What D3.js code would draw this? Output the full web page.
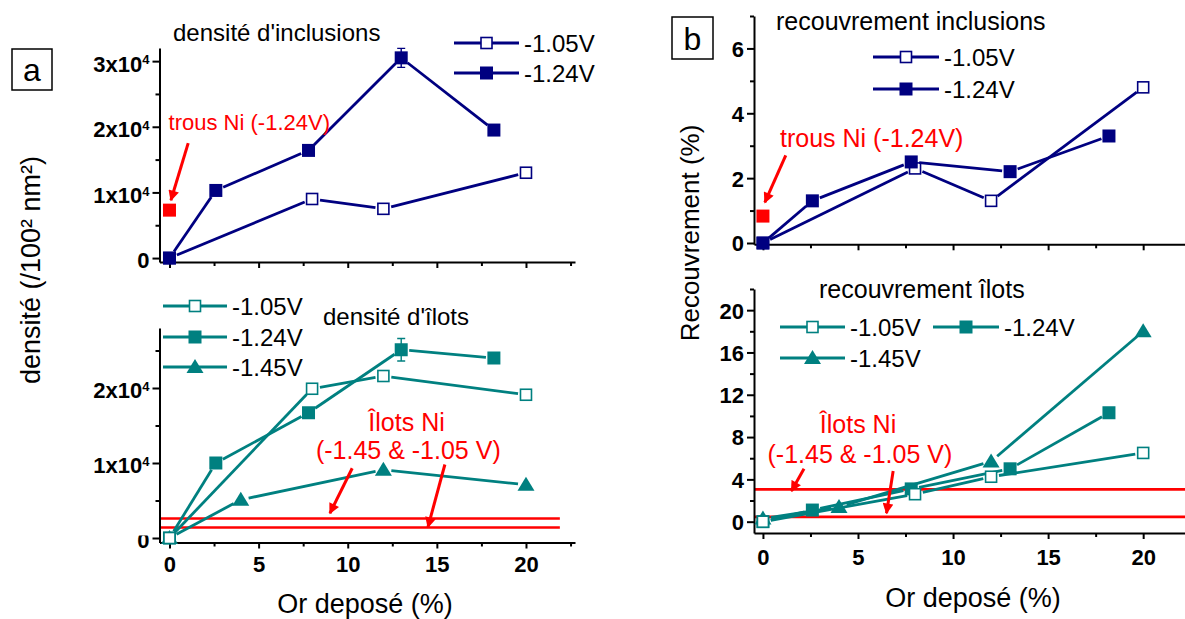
<!DOCTYPE html>
<html>
<head>
<meta charset="utf-8">
<script src="https://cdn.jsdelivr.net/npm/d3@7"></script>
<style>
  body { margin: 0; background: #fff; }
  text { font-family: "Liberation Sans", Arial, sans-serif; }
  .axis text { font-weight: bold; font-size: 22px; }
</style>
</head>
<body>
<div id="chart"></div>
<script>
// Or deposé (%) for each series
const orIncl105 = [0, 8, 12, 20];
const orIncl124 = [0, 2.6, 7.8, 13, 18.2];
const orIlots145 = [0, 4, 12, 20];

// panel a, top: densité d'inclusions
const densIncl105 = [0, 9000, 7500, 13000];
const densIncl124 = [0, 10300, 16400, 30500, 19500];
const densIncl124Err = [0, 0, 0, 1450, 0];
const densTrousNi = [7300];

// panel a, bottom: densité d'îlots
const densIlots105 = [0, 19900, 21600, 19100];
const densIlots124 = [0, 10000, 16700, 25100, 24000];
const densIlots124Err = [0, 0, 0, 1500, 0];
const densIlots145 = [0, 5100, 9100, 7100];
const densIlotsNi = [2600, 1400];

// panel b, top: recouvrement inclusions
const recIncl105 = [0, 2.3, 1.3, 4.8];
const recIncl124 = [0, 1.3, 2.5, 2.2, 3.3];
const recTrousNi = [0.83];

// panel b, bottom: recouvrement îlots
const recIlots105 = [0, 2.6, 4.25, 6.5];
const recIlots124 = [0, 1.1, 3.1, 5.0, 10.3];
const recIlots145 = [0.3, 1.4, 5.7, 18.0];
const recIlotsNi = [3.05, 0.45];

// ticks
const xTicks = [0, 5, 10, 15, 20];
const xMinor = [2.5, 7.5, 12.5, 17.5, 22.5];
const densTicks = [0, 10000, 20000, 30000];
const densIlotsTicks = [0, 10000, 20000];
const densMinor = [5000, 15000, 25000];
const recInclTicks = [0, 2, 4, 6];
const recInclMinor = [1, 3, 5, 7];
const recIlotsTicks = [0, 4, 8, 12, 16, 20];
const recIlotsMinor = [2, 6, 10, 14, 18, 22];

const navy = "#000080";
const teal = "#008080";
const red = "#ff0000";
const markerGap = 8;

const svg = d3.select("#chart")
    .append("svg")
    .attr("width", 1185)
    .attr("height", 619);

svg.append("defs").append("marker")
    .attr("id", "redArrow")
    .attr("viewBox", "0 -5 10 10")
    .attr("refX", 9)
    .attr("refY", 0)
    .attr("markerWidth", 4)
    .attr("markerHeight", 3.6)
    .attr("orient", "auto")
    .append("path")
    .attr("d", "M0,-5L10,0L0,5Z")
    .attr("fill", red);

// the "0" of the lower density axis only shows its lower half in the original
// (rect is in the tick's own coordinates)
svg.select("defs").append("clipPath")
    .attr("id", "zeroClip")
    .append("rect")
    .attr("x", -40).attr("y", -3).attr("width", 40).attr("height", 30);

// scales
const xA = d3.scaleLinear().domain([-0.56, 22.75]).range([159.5, 575]);
const xB = d3.scaleLinear().domain([-0.47, 22.2]).range([754, 1185]);
const yA1 = d3.scaleLinear().domain([-600, 32000]).range([262, 48]);
const yA2 = d3.scaleLinear().domain([-600, 28000]).range([542.5, 328]);
const yB1 = d3.scaleLinear().domain([-0.04, 7]).range([244.3, 16]);
const yB2 = d3.scaleLinear().domain([-1.07, 22]).range([533, 289]);

function styleAxis(g) {
    g.attr("class", "axis").attr("font-size", null).attr("font-family", null);
    g.select(".domain").attr("stroke-width", 2);
    g.selectAll(".tick line").attr("stroke-width", 2);
}

function sciLabels(g) {
    g.selectAll(".tick text").each(function (d) {
        const t = d3.select(this).text(null).attr("dy", "0.45em");
        if (d === 0) { t.text("0"); return; }
        t.append("tspan").text((d / 10000) + "x10");
        t.append("tspan").attr("dy", "-0.55em").style("font-size", "13px").text("4");
    });
}

function drawAxes(x, y, yMajor, yMinor, xLabels, xPad) {
    const y0 = y.range()[0];
    const x0 = x.range()[0];

    const gxm = svg.append("g").attr("transform", `translate(0,${y0})`)
        .call(d3.axisBottom(x).tickValues(xMinor.filter(v => x(v) <= x.range()[1]))
            .tickSize(4).tickSizeOuter(0).tickFormat(""));
    gxm.select(".domain").remove();
    gxm.selectAll(".tick line").attr("stroke-width", 2);

    const gx = svg.append("g").attr("transform", `translate(0,${y0})`)
        .call(d3.axisBottom(x).tickValues(xTicks).tickSize(6).tickSizeOuter(0)
            .tickPadding(xPad).tickFormat(xLabels ? d3.format("d") : ""));
    styleAxis(gx);

    const gym = svg.append("g").attr("transform", `translate(${x0},0)`)
        .call(d3.axisLeft(y).tickValues(yMinor).tickSize(4).tickSizeOuter(0).tickFormat(""));
    gym.select(".domain").remove();
    gym.selectAll(".tick line").attr("stroke-width", 2);

    const gy = svg.append("g").attr("transform", `translate(${x0},0)`)
        .call(d3.axisLeft(y).tickValues(yMajor).tickSize(7).tickSizeOuter(0)
            .tickPadding(3).tickFormat(d3.format("d")));
    styleAxis(gy);
    return gy;
}

function drawMarker(g, px, py, color, shape, size) {
    const s = size || 12;
    if (shape === "triangle") {
        g.append("path")
            .attr("d", `M${px},${py - 8}L${px + 8.5},${py + 6}L${px - 8.5},${py + 6}Z`)
            .attr("fill", color);
    } else {
        g.append("rect")
            .attr("x", px - s / 2).attr("y", py - s / 2)
            .attr("width", s).attr("height", s)
            .attr("fill", shape === "open" ? "#fff" : color)
            .attr("stroke", color)
            .attr("stroke-width", shape === "open" ? 1.6 : 0);
    }
}

function shorten(a, b) {
    const dx = b.px - a.px, dy = b.py - a.py;
    const len = Math.hypot(dx, dy);
    const k = Math.max(0, Math.min(markerGap, len / 2 - 1)) / len;
    return [a.px + dx * k, a.py + dy * k, b.px - dx * k, b.py - dy * k];
}

function drawSeries(x, y, xs, ys, color, shape, errs) {
    const g = svg.append("g");
    const pts = xs.map((v, i) => ({ px: x(v), py: y(ys[i]), val: ys[i], err: errs ? errs[i] : 0 }));

    g.selectAll("line.seg")
        .data(d3.pairs(pts))
        .join("line")
        .attr("class", "seg")
        .each(function ([a, b]) {
            const c = shorten(a, b);
            d3.select(this).attr("x1", c[0]).attr("y1", c[1]).attr("x2", c[2]).attr("y2", c[3]);
        })
        .attr("stroke", color)
        .attr("stroke-width", 2.8);

    pts.filter(d => d.err > 0).forEach(d => {
        const top = y(d.val + d.err), bot = y(d.val - d.err);
        g.append("path")
            .attr("d", `M${d.px},${top}V${bot}M${d.px - 4},${top}H${d.px + 4}M${d.px - 4},${bot}H${d.px + 4}`)
            .attr("stroke", color)
            .attr("stroke-width", 1.4)
            .attr("fill", "none");
    });

    pts.forEach(d => drawMarker(g, d.px, d.py, color, shape, shape === "open" ? 11 : 13));
}

function legendItem(x1, x2, y, color, shape, label) {
    const g = svg.append("g");
    g.append("line")
        .attr("x1", x1).attr("x2", x2).attr("y1", y).attr("y2", y)
        .attr("stroke", color).attr("stroke-width", 2.8);
    drawMarker(g, (x1 + x2) / 2, y, color, shape, shape === "open" ? 11 : 13);
    g.append("text")
        .attr("x", x2 + 5).attr("y", y).attr("dy", "0.36em")
        .attr("font-size", 24)
        .text(label);
}

function label(x, y, txt, size, opts) {
    const o = opts || {};
    return svg.append("text")
        .attr("x", x).attr("y", y)
        .attr("font-size", size)
        .attr("fill", o.fill || "#000")
        .attr("text-anchor", o.anchor || "start")
        .text(txt);
}

function arrow(x1, y1, x2, y2) {
    svg.append("line")
        .attr("x1", x1).attr("y1", y1).attr("x2", x2).attr("y2", y2)
        .attr("stroke", red)
        .attr("stroke-width", 3)
        .attr("marker-end", "url(#redArrow)");
}

function niLines(x, y, vals, xEnd) {
    svg.selectAll(null)
        .data(vals)
        .enter()
        .append("line")
        .attr("x1", x.range()[0]).attr("x2", x(xEnd))
        .attr("y1", d => y(d)).attr("y2", d => y(d))
        .attr("stroke", red)
        .attr("stroke-width", 2.6);
}

// ---------- panel a, top ----------
const gyA1 = drawAxes(xA, yA1, densTicks, densMinor, false, 3);
sciLabels(gyA1);
drawSeries(xA, yA1, orIncl105, densIncl105, navy, "open");
drawSeries(xA, yA1, orIncl124, densIncl124, navy, "filled", densIncl124Err);
densTrousNi.forEach(v => drawMarker(svg, xA(0), yA1(v), red, "filled", 13));
label(173, 41, "densité d'inclusions", 24);
legendItem(454, 519, 43, navy, "open", "-1.05V");
legendItem(454, 519, 73, navy, "filled", "-1.24V");
label(xA(-0.05), yA1(19500), "trous Ni (-1.24V)", 22, { fill: red });
arrow(xA(1.05), yA1(17500), xA(0.08), yA1(8800));

// ---------- panel a, bottom ----------
niLines(xA, yA2, densIlotsNi, 21.9);
const gyA2 = drawAxes(xA, yA2, densIlotsTicks, densMinor, true, 8);
sciLabels(gyA2);
gyA2.selectAll(".tick text").filter(d => d === 0).attr("clip-path", "url(#zeroClip)");
drawSeries(xA, yA2, orIncl124, densIlots124, teal, "filled", densIlots124Err);
drawSeries(xA, yA2, orIlots145, densIlots145, teal, "triangle");
drawSeries(xA, yA2, orIncl105, densIlots105, teal, "open");
label(323, 325, "densité d'îlots", 24);
legendItem(163, 227, 306, teal, "open", "-1.05V");
legendItem(163, 227, 337, teal, "filled", "-1.24V");
legendItem(163, 227, 367, teal, "triangle", "-1.45V");
label(xA(13.3), yA2(14300), "Îlots Ni", 25, { fill: red, anchor: "middle" });
label(xA(13.4), yA2(10500), "(-1.45 & -1.05 V)", 25, { fill: red, anchor: "middle" });
arrow(xA(10.25), yA2(9300), xA(9.0), yA2(3300));
arrow(xA(15.45), yA2(9800), xA(14.5), yA2(1450));

// ---------- panel b, top ----------
drawAxes(xB, yB1, recInclTicks, recInclMinor, false, 3)
    .selectAll(".tick text").attr("dy", "0.36em");
drawSeries(xB, yB1, orIncl105, recIncl105, navy, "open");
drawSeries(xB, yB1, orIncl124, recIncl124, navy, "filled");
recTrousNi.forEach(v => drawMarker(svg, xB(0), yB1(v), red, "filled", 13));
label(776, 30, "recouvrement inclusions", 25);
legendItem(873, 939, 57, navy, "open", "-1.05V");
legendItem(873, 939, 89, navy, "filled", "-1.24V");
label(xB(0.9), yB1(2.95), "trous Ni (-1.24V)", 25, { fill: red });
arrow(xB(1.2), yB1(2.7), xB(0.1), yB1(1.25));

// ---------- panel b, bottom ----------
niLines(xB, yB2, recIlotsNi, 22.2);
drawAxes(xB, yB2, recIlotsTicks, recIlotsMinor, true, 10)
    .selectAll(".tick text").attr("dy", "0.36em");
drawSeries(xB, yB2, orIncl124, recIlots124, teal, "filled");
drawSeries(xB, yB2, orIlots145, recIlots145, teal, "triangle");
drawSeries(xB, yB2, orIncl105, recIlots105, teal, "open");
label(819, 298, "recouvrement îlots", 25);
legendItem(780, 845, 327, teal, "open", "-1.05V");
legendItem(933, 999, 327, teal, "filled", "-1.24V");
legendItem(780, 845, 358, teal, "triangle", "-1.45V");
label(xB(5.0), yB2(8.35), "Îlots Ni", 25, { fill: red, anchor: "middle" });
label(xB(5.1), yB2(5.55), "(-1.45 & -1.05 V)", 25, { fill: red, anchor: "middle" });
arrow(xB(2.16), yB2(5.0), xB(1.5), yB2(2.9));
arrow(xB(6.85), yB2(4.8), xB(6.5), yB2(0.8));

// ---------- axis names and panel letters ----------
label(365, 613, "Or deposé (%)", 27, { anchor: "middle" });
label(973, 607, "Or deposé (%)", 27, { anchor: "middle" });

svg.append("text")
    .attr("transform", "translate(31,270) rotate(-90)")
    .attr("text-anchor", "middle")
    .attr("dy", "0.35em")
    .attr("font-size", 27)
    .text("densité (/100² nm²)");

svg.append("text")
    .attr("transform", "translate(690,233) rotate(-90)")
    .attr("text-anchor", "middle")
    .attr("dy", "0.35em")
    .attr("font-size", 26)
    .text("Recouvrement (%)");

[["a", 12, 49, 40, 41], ["b", 672, 17, 41, 42]].forEach(([t, x, y, w, h]) => {
    svg.append("rect")
        .attr("x", x).attr("y", y).attr("width", w).attr("height", h)
        .attr("fill", "none").attr("stroke", "#000").attr("stroke-width", 1.5);
    svg.append("text")
        .attr("x", x + w / 2).attr("y", y + h / 2).attr("dy", "0.36em")
        .attr("text-anchor", "middle")
        .attr("font-size", 32)
        .text(t);
});
</script>
</body>
</html>
